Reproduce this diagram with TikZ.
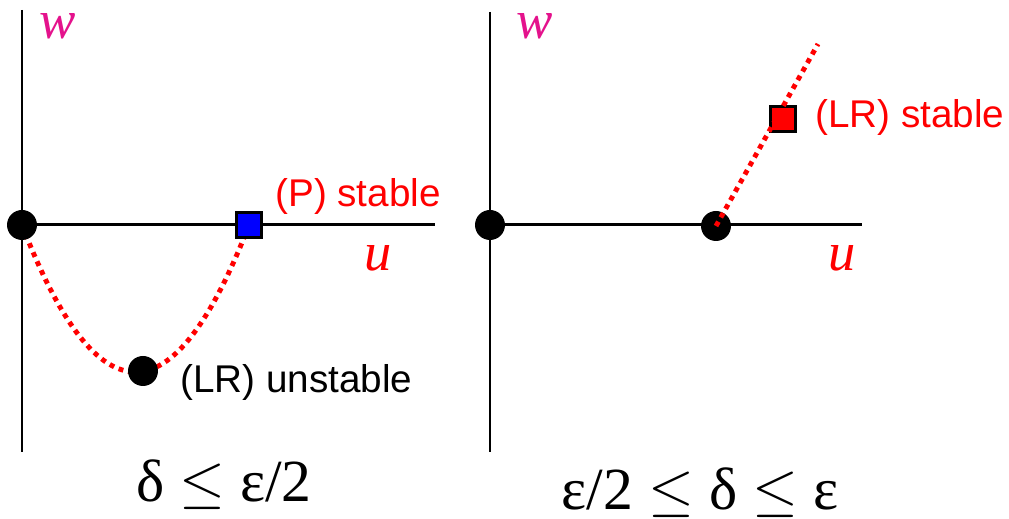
\documentclass[tikz,border=0pt]{standalone}
\usepackage{fontspec}
\setmainfont{Liberation Sans}
\newfontfamily\timesfont{Liberation Serif}
\usepackage{tikz}
\usetikzlibrary{arrows.meta,positioning}
\definecolor{wpink}{RGB}{228,18,140}
\newcommand{\bigleq}{\scalebox{1.35}{$\leq$}}

\begin{document}
\begin{tikzpicture}[x=0.02cm,y=-0.02cm,
  axis/.style={line width=1.7pt},
  fixdot/.style={circle,fill=black,inner sep=0pt,minimum size=0.6cm},
  sqbox/.style={rectangle,draw=black,line width=1.4pt,inner sep=0pt,minimum size=0.5cm},
  orbit/.style={red,line width=2.8pt,dash pattern=on 2.8pt off 2.8pt},
  lbl/.style={font=\fontsize{22}{26}\selectfont,inner sep=0pt},
  var/.style={font=\fontsize{31}{35}\timesfont\itshape,inner sep=0pt},
  cond/.style={font=\fontsize{34}{40}\timesfont,inner sep=0pt}]
  \useasboundingbox (0,0) rectangle (1009,519);
  % left panel: delta <= eps/2
  \coordinate (ytop1) at (22,10);
  \coordinate (ybot1) at (22,452);
  \coordinate (xend1) at (435,225);
  \coordinate (o1) at (22,225);
  \coordinate (m1) at (143,371);
  \coordinate (p1) at (249,225);
  \draw[axis] (ytop1) -- (ybot1);
  \draw[axis] (o1) -- (xend1);
  \draw[orbit] (o1) .. controls (97.7,421) and (173.3,421) .. (p1);
  \node[fixdot] (orig1) at (o1) {};
  \node[fixdot] (lrunst) at (m1) {};
  \node[sqbox,fill=blue] (pstab) at (p1) {};
  \node[var,wpink] (w1) at (58,26) {w};
  \node[var,red] (u1) at (378,258) {u};
  \node[lbl,red,anchor=base west] (plab) at (275,207) {(P) stable};
  \node[lbl,anchor=base west] (lrlab1) at (180,393) {(LR) unstable};
  \node[cond,anchor=base] (cond1) at (224,502) {δ \bigleq{} ε/2};
  % right panel: eps/2 <= delta <= eps
  \coordinate (ytop2) at (490,12);
  \coordinate (ybot2) at (490,452);
  \coordinate (xend2) at (862,225);
  \coordinate (o2) at (490,225);
  \coordinate (e2) at (716,226);
  \coordinate (t2) at (818,44);
  \draw[axis] (ytop2) -- (ybot2);
  \draw[axis] (o2) -- (xend2);
  \node[fixdot] (orig2) at (o2) {};
  \node[fixdot] (lrbif) at (e2) {};
  \node[sqbox,fill=red] (lrstab) at (783,119) {};
  \draw[orbit] (lrbif.center) -- (t2);
  \node[var,wpink] (w2) at (535,26) {w};
  \node[var,red] (u2) at (842,258) {u};
  \node[lbl,red,anchor=base west] (lrlab2) at (815,128) {(LR) stable};
  \node[cond,anchor=base] (cond2) at (700,510) {ε/2 \bigleq{} δ \bigleq{} ε};
\end{tikzpicture}
\end{document}
